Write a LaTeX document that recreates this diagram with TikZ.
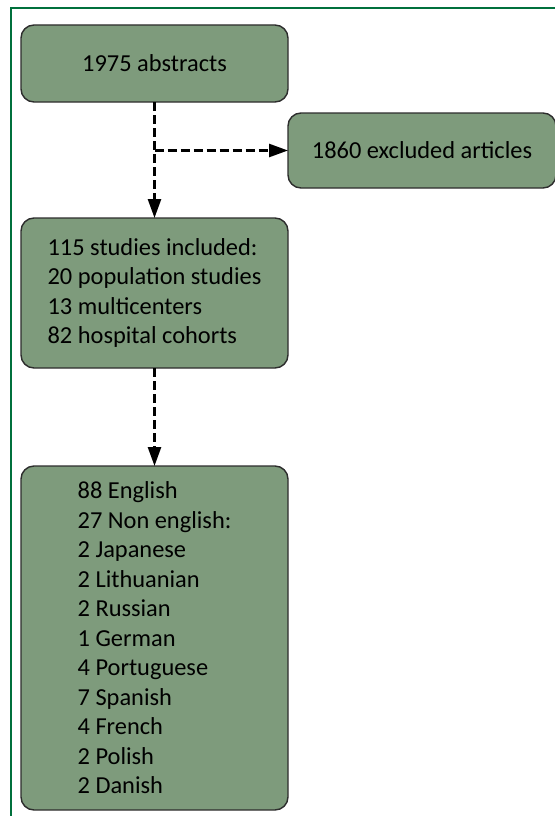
\documentclass[tikz,border=0pt]{standalone}
\usepackage{fontspec}
\setmainfont{Carlito}
\usetikzlibrary{arrows.meta}
\definecolor{boxgreen}{RGB}{126,155,124}
\definecolor{framegreen}{RGB}{0,112,60}
\definecolor{edgegray}{RGB}{45,45,45}
\tikzset{
  stagebox/.style={draw=edgegray,fill=boxgreen,line width=1.4pt,rounded corners=13pt,
    inner sep=0pt,outer sep=0pt,align=left,font=\fontsize{24.4}{29.5}\selectfont},
  flowarrow/.style={line width=2.6pt,dash pattern=on 9pt off 4pt,-{Triangle[length=19pt,width=13pt]}},
}

\begin{document}
\begin{tikzpicture}[x=1pt,y=-1pt]
      \useasboundingbox (0,0) rectangle (554,816);
      \draw [framegreen,line width=2pt] (11,840) -- (11,8) -- (580,8);
      \node [stagebox,minimum width=267pt,minimum height=77pt] (p1) at (154.5,63.5) {1975 abstracts};
      \node [stagebox,minimum width=268pt,minimum height=75pt] (p2) at (422,150.5) {1860 excluded articles};
      \node [stagebox,minimum width=267pt,minimum height=150pt] (p3) at (154.5,293) {115 studies included:\\20 population studies\\13 multicenters\\82 hospital cohorts};
      \node [stagebox,minimum width=267pt,minimum height=344pt] (p4) at (154.5,638) {88 English\\27 Non english:\\2 Japanese\\2 Lithuanian\\2 Russian\\1 German\\4 Portuguese\\7 Spanish\\4 French\\2 Polish\\2 Danish};
      \coordinate (split) at (154.5,150.5);
      \draw [flowarrow] (p1)--(p3);
      \draw [flowarrow] (split)--(p2);
      \draw [flowarrow] (p3)--(p4);
    \end{tikzpicture}
\end{document}
